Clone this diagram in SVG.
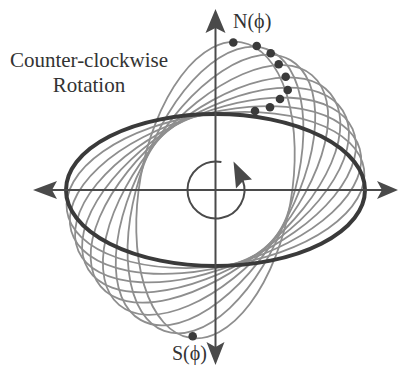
<svg xmlns="http://www.w3.org/2000/svg" width="402" height="366" viewBox="0 0 402 366">
<style>
.g{fill:none;stroke:#8e8e8e;stroke-width:1.8}
.thick{fill:none;stroke:#3a3a3a;stroke-width:4}
.ax{stroke:#4a4a4a;stroke-width:2;fill:none}
.ah{fill:#4a4a4a;stroke:none}
.dot{fill:#3a3a3a}
.t{font-family:"Liberation Serif","Times New Roman",serif;fill:#333333}
</style>
<rect width="402" height="366" fill="#ffffff"/>
<g id="gray-ellipses">
<ellipse class="g" cx="215.5" cy="190" rx="150" ry="76" transform="rotate(-8 215.5 190)"/>
<ellipse class="g" cx="215.5" cy="190" rx="150" ry="76" transform="rotate(-16 215.5 190)"/>
<ellipse class="g" cx="215.5" cy="190" rx="150" ry="76" transform="rotate(-24 215.5 190)"/>
<ellipse class="g" cx="215.5" cy="190" rx="150" ry="76" transform="rotate(-32 215.5 190)"/>
<ellipse class="g" cx="215.5" cy="190" rx="150" ry="76" transform="rotate(-40 215.5 190)"/>
<ellipse class="g" cx="215.5" cy="190" rx="150" ry="76" transform="rotate(-50 215.5 190)"/>
<ellipse class="g" cx="215.5" cy="190" rx="150" ry="76" transform="rotate(-60 215.5 190)"/>
<ellipse class="g" cx="215.5" cy="190" rx="150" ry="76" transform="rotate(-70 215.5 190)"/>
<ellipse class="g" cx="215.5" cy="190" rx="150" ry="76" transform="rotate(-80 215.5 190)"/>
</g>
<g id="main-ellipse">
<ellipse class="thick" cx="215.5" cy="190" rx="149.5" ry="76"/>
</g>
<g id="axes">
<line class="ax" x1="215.5" y1="26" x2="215.5" y2="349"/>
<line class="ax" x1="50" y1="190" x2="386" y2="190"/>
<polygon class="ah" points="215.5,9 225.5,33 215.5,28 205.5,33"/>
<polygon class="ah" points="215.5,365 206.5,342 215.5,347 224.5,342"/>
<polygon class="ah" points="33,190 57,181 52,190 57,199"/>
<polygon class="ah" points="398,190 377,181 382,190 377,199"/>
</g>
<g id="rotation-indicator">
<path class="ax" d="M221.4,162 A28.5,28.5 0 1 0 242.6,179.8"/>
<polygon class="ah" points="233.5,161.5 252,179.5 243.5,180.5 236,188.5"/>
</g>
<g id="n-points">
<circle class="dot" cx="255" cy="111" r="4.3"/>
<circle class="dot" cx="270" cy="107.3" r="4.3"/>
<circle class="dot" cx="280" cy="99" r="4.3"/>
<circle class="dot" cx="287.7" cy="90" r="4.3"/>
<circle class="dot" cx="285.7" cy="76.7" r="4.3"/>
<circle class="dot" cx="278.7" cy="64.3" r="4.3"/>
<circle class="dot" cx="270.7" cy="53.3" r="4.3"/>
<circle class="dot" cx="256.7" cy="46" r="4.3"/>
<circle class="dot" cx="233.3" cy="42.5" r="4.3"/>
</g>
<g id="s-point">
<circle class="dot" cx="192.7" cy="336.3" r="4.3"/>
</g>
<g id="labels">
<text class="t" x="89" y="67" font-size="21" text-anchor="middle">Counter-clockwise</text>
<text class="t" x="89" y="92" font-size="21" text-anchor="middle">Rotation</text>
<text class="t" x="233" y="28" font-size="20">N(ϕ)</text>
<text class="t" x="172" y="360" font-size="20">S(ϕ)</text>
</g>
</svg>
